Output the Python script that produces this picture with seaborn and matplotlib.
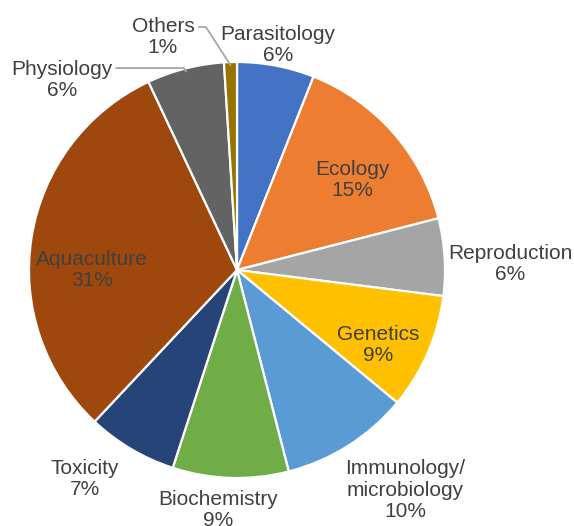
import numpy as np
import matplotlib
matplotlib.use("Agg")
import matplotlib.pyplot as plt
import seaborn as sns

# Share of studies by research field (%)
categories = ["Parasitology", "Ecology", "Reproduction", "Genetics",
              "Immunology/\nmicrobiology", "Biochemistry", "Toxicity",
              "Aquaculture", "Physiology", "Others"]
shares = [6, 15, 6, 9, 10, 9, 7, 31, 6, 1]
colors = ["#4472C4", "#ED7D31", "#A5A5A5", "#FFC000", "#5B9BD5",
          "#70AD47", "#264478", "#9E480E", "#636363", "#997300"]

# Label anchors in pie-radius units, relative to the pie centre
label_xy = {
    "Parasitology": (0.197, 1.082),
    "Ecology": (0.553, 0.433),
    "Reproduction": (1.313, 0.029),
    "Genetics": (0.678, -0.361),
    "Immunology/\nmicrobiology": (0.808, -1.058),
    "Biochemistry": (-0.091, -1.154),
    "Toxicity": (-0.731, -1.005),
    "Aquaculture": (-0.697, 0.0),
    "Physiology": (-0.841, 0.913),
    "Others": (-0.356, 1.120),
}
leader = {"Physiology", "Others"}

sns.set_theme(style="white")
plt.rcParams["font.family"] = ["Liberation Sans", "DejaVu Sans"]

W, H = 574, 526
fig = plt.figure(figsize=(W / 100, H / 100), dpi=100)
ax = fig.add_axes([0, 0, 1, 1])
ax.set_xlim(0, W)
ax.set_ylim(0, H)
ax.set_aspect("equal")
ax.axis("off")

cx, cy, R = 237, H - 270, 208
wedges, _ = ax.pie(shares, colors=colors, startangle=90, counterclock=False,
                   radius=R, center=(cx, cy), frame=True,
                   wedgeprops=dict(edgecolor="white", linewidth=1.6))
ax.set_xlim(0, W)
ax.set_ylim(0, H)
ax.axis("off")

text_color = "#404040"
for w, cat, val in zip(wedges, categories, shares):
    lx, ly = label_xy[cat]
    tx, ty = cx + lx * R, cy + ly * R
    ax.text(tx, ty, f"{cat}\n{val}%", ha="center", va="center",
            fontsize=15, color=text_color, linespacing=1.15)
    if cat in leader:
        mid = np.deg2rad((w.theta1 + w.theta2) / 2)
        ex, ey = cx + 0.985 * R * np.cos(mid), cy + 0.985 * R * np.sin(mid)
        if cat == "Others":
            sx, sy = tx + 36, ty + 10
            ax.plot([sx, sx + 7, ex], [sy, sy, ey], color="#A6A6A6", lw=1.3)
        else:
            sx, sy = tx + 54, ty + 12
            ax.plot([sx, ex - 2, ex], [sy, sy, ey], color="#A6A6A6", lw=1.3)

fig.savefig("out.png", dpi=100)
